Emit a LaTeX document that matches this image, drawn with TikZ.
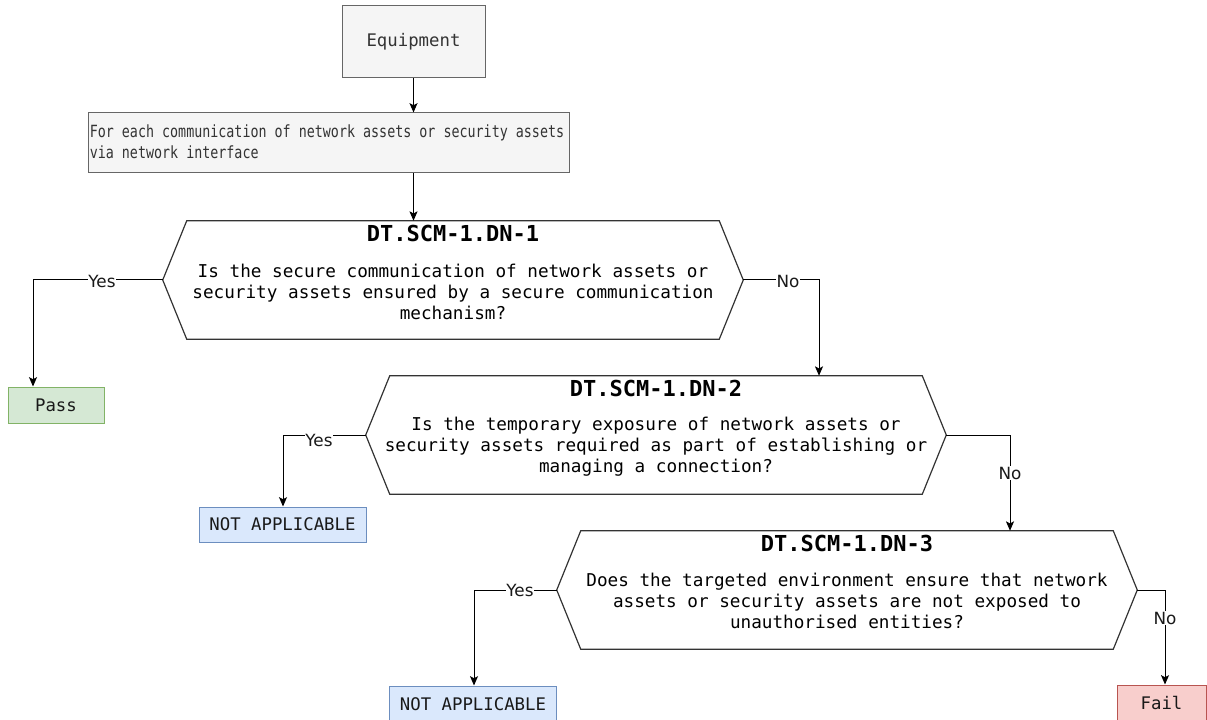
\documentclass[tikz,border=0pt]{standalone}
\usepackage{fontspec}
\setmainfont{DejaVu Sans}
\newfontfamily\monof{DejaVu Sans Mono}
\newfontfamily\monocond[FakeStretch=0.795]{DejaVu Sans Mono}
\usetikzlibrary{arrows.meta,calc}
\definecolor{greyfill}{HTML}{F5F5F5}
\definecolor{greyline}{HTML}{666666}
\definecolor{greentxt}{HTML}{333333}
\definecolor{passfill}{HTML}{D5E8D4}
\definecolor{passline}{HTML}{82B366}
\definecolor{nafill}{HTML}{DAE8FC}
\definecolor{naline}{HTML}{6C8EBF}
\definecolor{failfill}{HTML}{F8CECC}
\definecolor{failline}{HTML}{B85450}
\definecolor{hexline}{HTML}{333333}
\tikzset{
  greybox/.style={draw=greyline, fill=greyfill, line width=0.75pt, text=greentxt, inner sep=0pt},
  resbox/.style={line width=0.75pt, minimum height=27pt, inner sep=0pt, text=black!90,
    font=\monof\fontsize{13}{15}\selectfont},
  hexarea/.style={minimum width=435pt, minimum height=88.5pt, inner sep=0pt},
  hexdraw/.style={draw=hexline, fill=white, line width=0.9pt, line join=miter},
  hextitle/.style={font=\monof\bfseries\fontsize{16.5}{18}\selectfont, inner sep=0pt},
  hexbody/.style={font=\monof\fontsize{13.25}{15.75}\selectfont, align=center, inner sep=0pt},
  conn/.style={draw=black, line width=0.75pt, -{Stealth[length=7pt,width=6pt,inset=1.5pt]}},
  lbl/.style={fill=white, inner sep=0.6pt, font=\fontsize{12.6}{14}\selectfont, text=black!90}
}
\begin{document}
\begin{tikzpicture}[x=0.75pt,y=-0.75pt]
\useasboundingbox (0,0) rectangle (1207,720);

% boxes
\node[greybox, minimum width=107.25pt, minimum height=54pt,
      font=\monof\fontsize{13}{15}\selectfont] (eq) at (413.5,42) {Equipment};
\node[greybox, minimum width=360.75pt, minimum height=45pt] (each) at (328.5,143) {};
\node[anchor=west, inner sep=0pt, align=left, text=greentxt,
      font=\monocond\fontsize{12.6}{15.75}\selectfont] (eachtxt) at ($(each.west)+(2,-1)$)
      {For each communication of network assets or security assets\\via network interface};

% hexagon areas
\node[hexarea] (h1) at (453,280) {};
\node[hexarea] (h2) at (656,435) {};
\node[hexarea] (h3) at (847,590) {};
\foreach \h in {h1,h2,h3}{
  \draw[hexdraw] ($(\h.north west)+(24,0)$) -- ($(\h.north east)+(-24,0)$) -- (\h.east)
    -- ($(\h.south east)+(-24,0)$) -- ($(\h.south west)+(24,0)$) -- (\h.west) -- cycle;
}
\node[hextitle] (t1) at (453,233) {DT.SCM-1.DN-1};
\node[hexbody] (b1) at (453,292) {Is the secure communication of network assets or\\security assets ensured by a secure communication\\mechanism?};
\node[hextitle] (t2) at (656,388) {DT.SCM-1.DN-2};
\node[hexbody] (b2) at (656,447) {Is the temporary exposure of network assets or\\security assets required as part of establishing or\\managing a connection?};
\node[hextitle] (t3) at (847,543) {DT.SCM-1.DN-3};
\node[hexbody] (b3) at (847,601) {Does the targeted environment ensure that network\\assets or security assets are not exposed to\\unauthorised entities?};

% results
\node[resbox, draw=passline, fill=passfill, minimum width=72pt] (pass) at (56,405) {Pass};
\node[resbox, draw=naline, fill=nafill, minimum width=125.25pt, minimum height=26.25pt] (na1) at (282.5,524.5) {NOT APPLICABLE};
\node[resbox, draw=naline, fill=nafill, minimum width=125.25pt] (na2) at (473,704) {NOT APPLICABLE};
\node[resbox, draw=failline, fill=failfill, minimum width=66.75pt] (fail) at (1161.5,703) {Fail};

% bend points
\coordinate (y1) at (33,280);
\coordinate (n1) at (819,280);
\coordinate (y2) at (283,435);
\coordinate (n2) at (1010,435);
\coordinate (y3) at (474,590);
\coordinate (n3) at (1165,590);

% connectors
\draw[conn] (eq.south) -- (eq.south |- each.north);
\draw[conn] (eq.south |- each.south) -- (eq.south |- h1.north);
\draw[conn] (h1.west) -- (y1) -- (y1 |- pass.north);
\draw[conn] (h1.east) -- (n1) -- (n1 |- h2.north);
\draw[conn] (h2.west) -- (y2) -- (y2 |- na1.north);
\draw[conn] (h2.east) -- (n2) -- (n2 |- h3.north);
\draw[conn] (h3.west) -- (y3) -- (y3 |- na2.north);
\draw[conn] (h3.east) -- (n3) -- (n3 |- fail.north);

% labels
\node[lbl] (l1) at (102,281) {Yes};
\node[lbl] (l2) at (788,281) {No};
\node[lbl] (l3) at (319,440) {Yes};
\node[lbl] (l4) at (1010,473) {No};
\node[lbl] (l5) at (520,590) {Yes};
\node[lbl] (l6) at (1165,618) {No};
\end{tikzpicture}
\end{document}
